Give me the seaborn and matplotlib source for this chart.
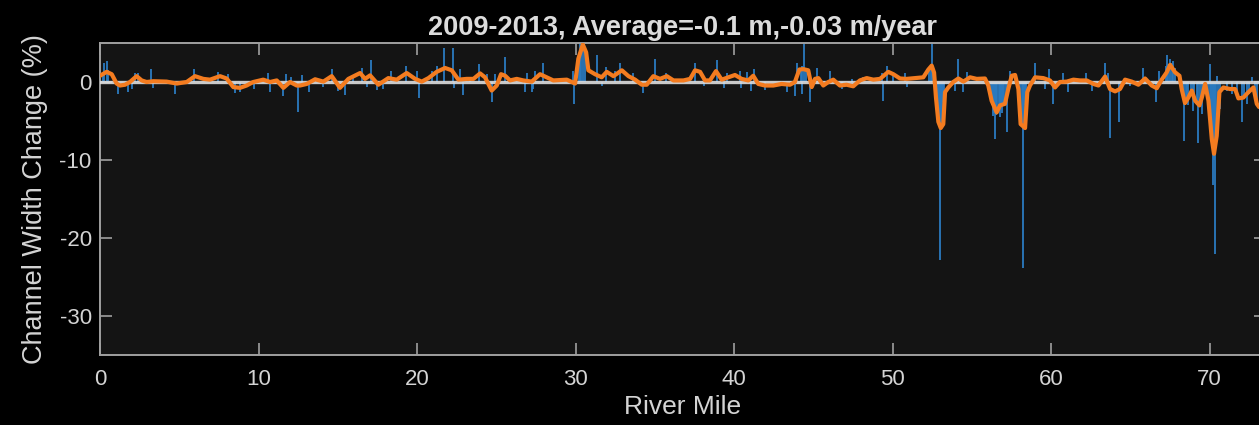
import numpy as np
import pandas as pd
import matplotlib
matplotlib.use("Agg")
import matplotlib.pyplot as plt
import seaborn as sns

# ---------------- data ----------------
title_text = "2009-2013, Average=-0.1 m,-0.03 m/year"
x_label = "River Mile"
y_label = "Channel Width Change (%)"
x_ticks = [0, 10, 20, 30, 40, 50, 60, 70]
y_ticks = [-30, -20, -10, 0]

# smoothed width change (orange)
smooth_mile = [
    0.0, 0.42, 0.74, 1.05, 1.26, 1.58, 1.89, 2.31, 2.63, 2.94, 3.36, 4.2, 4.84, 5.47, 5.99,
    6.52, 6.94, 7.57, 7.99, 8.41, 8.83, 9.25, 9.67, 10.3, 10.73, 11.15, 11.57, 11.99, 12.41,
    12.62, 13.04, 13.57, 14.09, 14.62, 15.14, 15.67, 16.41, 16.72, 17.04, 17.56, 18.19, 18.72,
    19.35, 19.88, 20.3, 20.72, 21.24, 21.77, 22.19, 22.61, 23.14, 23.56, 23.98, 24.29, 24.71,
    25.03, 25.3, 25.56, 25.87, 26.29, 26.71, 27.24, 27.76, 28.18, 28.6, 29.45, 29.97, 30.18,
    30.46, 30.67, 30.81, 31.23, 31.65, 31.97, 32.39, 32.92, 33.34, 33.76, 34.18, 34.49, 34.91,
    35.33, 35.76, 36.18, 36.81, 37.23, 37.54, 37.86, 38.17, 38.48, 38.86, 39.22, 39.64, 40.06,
    40.48, 40.9, 41.21, 41.53, 41.95, 42.48, 43.0, 43.53, 43.84, 44.12, 44.37, 44.68, 44.9,
    45.11, 45.32, 45.63, 45.95, 46.26, 46.68, 47.1, 47.52, 47.94, 48.37, 48.79, 49.21, 49.73,
    50.05, 50.47, 50.89, 51.42, 51.94, 52.26, 52.47, 52.62, 52.74, 52.89, 53.04, 53.2, 53.31,
    53.52, 53.83, 54.15, 54.47, 54.89, 55.31, 55.83, 56.04, 56.25, 56.57, 56.78, 57.09, 57.3,
    57.52, 57.73, 57.94, 58.08, 58.36, 58.5, 58.67, 58.99, 59.51, 59.93, 60.25, 60.56, 60.99,
    61.41, 61.83, 62.25, 62.67, 62.99, 63.41, 63.72, 64.04, 64.35, 64.67, 65.09, 65.51, 65.93,
    66.35, 66.67, 66.98, 67.3, 67.51, 67.82, 68.1, 68.24, 68.45, 68.66, 68.88, 69.09, 69.36,
    69.51, 69.72, 69.93, 70.14, 70.28, 70.45, 70.62, 70.87, 71.29, 71.61, 71.82, 72.13, 72.45,
    72.77, 72.98, 73.12, 73.5,
]
smooth_pct = [
    0.8, 1.3, 1.0, -0.2, -0.45, -0.35, 0.0, 0.75, 0.2, 0.0, 0.1, 0.05, -0.2, 0.0, 0.75,
    0.4, 0.3, 0.75, 0.45, -0.65, -0.75, -0.45, 0.0, 0.3, 0.0, 0.2, -0.75, 0.0, -0.45,
    -0.45, -0.25, 0.35, 0.05, 0.75, -0.75, 0.4, 1.15, 0.4, 0.85, -0.35, 0.5, 0.3,
    1.15, 0.4, 0.05, 0.5, 1.3, 1.8, 1.5, 0.3, 0.4, 0.4, 1.1, 0.6, -1.1,
    -0.45, 1.0, 0.8, 0.2, 0.4, 0.2, 0.05, 1.0, 0.6, 0.2, 0.3, -0.2, 3.0,
    4.8, 3.8, 1.5, 1.0, 0.6, 1.3, 0.75, 1.5, 0.75, 0.3, -0.35, -0.35, 0.75,
    0.4, 0.75, 0.2, 0.2, 0.4, 1.5, 1.3, 0.2, 0.2, 1.4, 0.3, 0.6, 0.9,
    0.4, 0.2, 0.8, -0.25, -0.45, -0.45, -0.25, -0.35, 0.0, 1.6, 1.65, 1.5, -0.65,
    0.4, 0.5, -0.45, 0.0, 0.3, -0.45, -0.35, -0.55, 0.2, 0.5, 0.3, 0.4, 1.3,
    1.0, 0.45, 0.4, 0.5, 0.6, 1.6, 2.1, 1.2, -2.0, -5.1, -5.9, -5.4, -1.3,
    -0.7, 0.0, 0.45, 0.05, 0.6, 0.4, 0.45, -0.45, -2.4, -3.9, -3.0, -2.8, -0.9,
    0.8, 0.9, -0.9, -5.4, -5.9, -1.3, -0.45, 0.6, 0.5, 0.2, -0.7, 0.0, 0.05,
    0.3, 0.2, 0.2, -0.25, -0.45, 0.7, -0.9, -1.2, -0.9, 0.3, 0.05, -0.35, 0.45,
    -0.45, -0.8, 0.3, 1.25, 2.2, 1.25, 0.8, -0.9, -2.7, -2.0, -1.1, -2.4, -3.0,
    -2.0, -0.25, -2.4, -7.3, -9.2, -6.9, -1.3, -0.7, -0.9, -0.9, -2.1, -2.0, -1.3,
    -0.7, -2.8, -3.2, -3.3,
]

# raw width change per cross-section (blue)
raw_mile = [
    0.2, 0.25, 0.42, 0.5, 1.16, 1.79, 2.0, 2.21, 2.42, 3.2, 3.36, 4.73, 5.93, 7.47, 8.1,
    8.52, 8.83, 9.72, 10.62, 10.73, 11.57, 11.74, 12.03, 12.51,
    12.73, 13.21, 14.05, 14.62, 15.04, 15.46, 15.99, 16.51, 16.83, 17.1, 17.46, 17.84, 18.34,
    19.31, 20.02, 20.11, 20.93, 21.24, 21.73, 22.25, 22.34, 22.71, 22.92, 23.35, 23.93, 24.4,
    24.71, 24.92,
    25.56, 26.82, 26.92, 27.24, 27.34, 27.45, 27.97, 29.82, 29.91, 30.2, 30.29, 30.35, 30.5,
    30.6, 31.34, 31.65, 31.93, 32.5, 32.81, 33.65, 34.28, 35.02, 35.71, 37.54,
    38.1, 38.9, 39.36, 39.53, 40.37, 40.42, 40.79, 41.05, 41.26, 41.95, 43.36, 43.84, 43.99,
    44.2, 44.26, 44.3, 44.43, 44.55, 44.79, 45.21, 46.05, 46.79, 47.42, 48.15, 49.31, 49.42,
    49.63, 50.05,
    50.79, 50.89, 52.3, 52.4, 52.47, 52.74, 52.8, 52.85, 52.89, 52.95, 52.99, 53.05, 53.1,
    53.16, 53.25, 53.94, 54.15, 54.47, 54.72, 56.2, 56.3, 56.32, 56.4, 56.46, 56.5, 56.55,
    56.61, 56.7, 56.78, 56.85, 56.9, 56.99, 57.05, 57.15, 57.2, 57.41, 58.05, 58.15, 58.21,
    58.25, 58.29, 58.35, 58.45, 58.99, 59.62, 59.89, 60.14, 60.77, 61.09,
    62.21, 62.57, 63.41, 63.62, 63.72, 64.31, 64.98, 65.83, 66.62, 66.84, 67.25, 67.34, 67.4,
    67.51, 67.6, 67.72, 67.8, 68.3, 68.41, 68.5, 68.6, 68.66, 68.8, 68.98, 69.0, 69.2, 69.3,
    69.4, 69.51, 69.6, 69.9, 70.0, 70.03, 70.1, 70.15, 70.2, 70.25, 70.3, 70.33, 70.4, 70.5,
    70.55, 70.66, 71.1, 71.4, 71.7, 72.03, 72.2, 72.35, 72.5, 72.66, 72.85, 72.98, 73.2,
]
raw_pct = [
    1.2, 2.5, 2.7, 1.5, -1.5, -1.3, -0.9, 1.2, 1.2, 1.7, -0.8, -1.5, 1.7, 1.3, 1.0,
    -1.4, -1.3, -0.9, 1.15, -1.3, -1.8, 1.0, 0.6, -3.9,
    0.9, -1.3, -0.7, 1.7, -1.1, -1.7, 0.9, 1.75, -0.7, 2.85, -1.0, -0.9, 1.45,
    2.0, 1.45, -2.0, 1.45, 2.1, 4.4, 4.3, -0.8, 1.7, -1.65, 0.7, 2.3, 1.0,
    -2.6, 1.0,
    3.15, -1.3, 1.15, -1.3, -0.9, 1.45, 2.5, 1.45, -2.8, 3.5, 5.0, 4.5, 5.0,
    4.0, 3.45, -0.5, 1.9, 1.45, 2.4, 1.2, -1.4, 2.9, 1.2, 2.5,
    -0.55, 2.85, -0.8, 1.2, 1.45, -0.8, 1.3, -1.1, 1.65, -1.0, -1.3, -1.75, 2.5,
    1.8, -1.5, 2.0, 5.0, 1.8, -2.6, 1.75, 1.45, -0.9, 0.4, 0.6, 1.2, -2.4,
    2.1, 1.2,
    1.2, -0.7, 1.5, 2.0, 5.0, -1.3, -3.5, -5.0, -3.0, -5.8, -22.8, -6.0, -5.5,
    -2.6, -3.0, -1.1, 3.0, -1.3, 1.3, -2.0, -3.0, -4.3, -4.0, -7.3, -3.8, -4.2,
    -3.4, -3.5, -4.5, -3.2, -4.0, -3.0, -3.0, -2.5, -6.4, 1.45, -4.5, -5.8, -23.9,
    -6.0, -3.0, -5.5, -3.0, 2.4, -0.9, 1.65, -2.8, 1.2, -1.3,
    1.15, -1.2, 2.5, 1.2, -7.2, -5.1, -0.5, 1.75, -2.6, 1.45, 2.0, 3.4, 2.3,
    2.9, 2.5, 2.7, 1.8, -2.0, -7.5, -2.8, -2.2, -3.0, -1.5, -3.7, -2.0, -2.8, -7.8,
    -3.0, -4.1, -1.8, -2.0, -4.0, 2.3, -7.0, -8.5, -13.2, -9.5, -10.0, -22.0, -8.0, 0.8,
    -3.0, -3.5, -1.2, -1.5, -1.8, -5.1, -2.0, -2.8, -1.6, 0.6, -1.2, -3.0, -3.2,
]

smooth_df = pd.DataFrame({"mile": smooth_mile, "pct": smooth_pct})

# ---------------- style ----------------
sns.set_theme(style="dark")
plt.rcParams["font.family"] = ["Liberation Sans", "DejaVu Sans"]
plt.rcParams["axes.unicode_minus"] = False

text_color = "#d4d4d4"
axis_color = "#a0a0a0"

fig = plt.figure(figsize=(12.59, 4.25), dpi=100, facecolor="black")
ax = fig.add_axes([100 / 1259, 70 / 425, 1166 / 1259, 312 / 425])
ax.set_facecolor("#141414")

ax.vlines(raw_mile, 0, raw_pct, color="#2b7bc0", linewidth=1.3, zorder=2)
ax.axhline(0, color="#dedede", linewidth=2.4, alpha=0.9, zorder=3)
sns.lineplot(data=smooth_df, x="mile", y="pct", ax=ax, color="#f47c20",
             linewidth=3.0, zorder=4, sort=False,
             solid_joinstyle="round", solid_capstyle="round")

ax.set_xlim(0, 73.56)
ax.set_ylim(-35, 5)
ax.set_xticks(x_ticks)
ax.set_yticks(y_ticks)
ax.grid(False)

for s in ax.spines.values():
    s.set_visible(True)
    s.set_color(axis_color)
    s.set_linewidth(1.4)

ax.tick_params(axis="both", which="both", direction="in", length=8.5, width=1.2,
               color=axis_color, labelcolor=text_color, labelsize=16,
               top=True, right=True, bottom=True, left=True)
ax.tick_params(axis="x", pad=10)
ax.tick_params(axis="y", pad=6)

ax.set_xlabel(x_label, color=text_color, fontsize=19, labelpad=4)
ax.set_ylabel(y_label, color=text_color, fontsize=19.5, labelpad=8)
ax.set_title(title_text, color="#dcdcdc", fontsize=19.5, fontweight="bold", pad=6)

fig.savefig("out.png", dpi=100, facecolor="black")
